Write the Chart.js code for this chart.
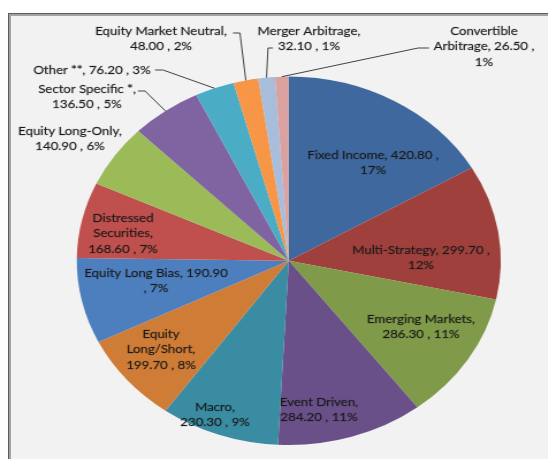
<!DOCTYPE html>
<html>
<head>
  <meta charset="UTF-8">
  <title>Hedge Fund Strategies</title>
  <script src="https://cdn.jsdelivr.net/npm/chart.js"></script>
  <style>
    body { margin: 0; background: #fff; width: 548px; height: 459px; overflow: hidden; position: relative; }
    .frame { position: absolute; left: 8px; top: 13px; width: 560px; height: 470px; background: #f2f2f2;
             border-left: 1px solid #5c5c5c; border-top: 1px solid #5c5c5c; box-shadow: inset 2px 2px 0 #a3a3a3; }
    .stretch { position: absolute; left: 0; top: 0; transform-origin: 0 0; }
  </style>
</head>
<body>
  <div class="frame"></div>
  <div class="stretch" id="wrap"><canvas id="pieChart" width="476" height="459"></canvas></div>

  <script>
    const categories = ['Fixed Income', 'Multi-Strategy', 'Emerging Markets', 'Event Driven', 'Macro',
      'Equity Long/Short', 'Equity Long Bias', 'Distressed Securities', 'Equity Long-Only',
      'Sector Specific *', 'Other **', 'Equity Market Neutral', 'Merger Arbitrage', 'Convertible Arbitrage'];
    const values = [420.8, 299.7, 286.3, 284.2, 230.3, 199.7, 190.9, 168.6, 140.9, 136.5, 76.2, 48.0, 32.1, 26.5];
    const shares = [17, 12, 11, 11, 9, 8, 7, 7, 6, 5, 3, 2, 1, 1];
    const colors = ['#3F689E', '#A0403D', '#7F9A48', '#6A5089', '#3A8CA3', '#CF7C37', '#4D7FBF',
      '#C0504D', '#9BBB59', '#8064A2', '#4BACC6', '#F79646', '#A8BCDB', '#D9A2A1'];

    // the reference pie is an ellipse, so the whole chart is drawn round and stretched sideways
    const SX = 1.151;
    document.getElementById('wrap').style.transform = 'scaleX(' + SX + ')';

    // label placement in page pixels: centre x, first line y, words per line, leader elbow
    const labelLayout = [
      { x: 373, y: 155, wrap: [4, 1] },
      { x: 421, y: 250, wrap: [3, 1] },
      { x: 421, y: 319, wrap: [2, 3] },
      { x: 319, y: 402, wrap: [2, 3] },
      { x: 215, y: 407, wrap: [1, 3] },
      { x: 161, y: 334, wrap: [1, 1, 3] },
      { x: 156, y: 273, wrap: [4, 2] },
      { x: 123, y: 218, wrap: [1, 1, 3] },
      { x: 70, y: 131, wrap: [2, 3] },
      { x: 87, y: 89, wrap: [3, 3], lead: [[138, 91], [145, 91]] },
      { x: 92, y: 70, wrap: [5], lead: [[155, 70], [163, 70]] },
      { x: 161, y: 31, wrap: [3, 3], lead: [[233, 33], [240, 33]] },
      { x: 309, y: 31, wrap: [2, 3], lead: [[273, 48], [268, 48]] },
      { x: 484, y: 31, wrap: [1, 3, 1], lead: [[429, 48], [418, 48]] }
    ];

    const sliceLabels = {
      id: 'sliceLabels',
      afterDatasetsDraw(chart) {
        const ctx = chart.ctx;
        const arcs = chart.getDatasetMeta(0).data;
        ctx.save();
        ctx.font = '11.5px Lato';
        ctx.textAlign = 'center';
        ctx.textBaseline = 'middle';
        labelLayout.forEach((pos, i) => {
          const a = arcs[i].getProps(['x', 'y', 'startAngle', 'endAngle', 'outerRadius'], true);
          if (pos.lead) {
            const mid = (a.startAngle + a.endAngle) / 2;
            ctx.strokeStyle = '#404040';
            ctx.lineWidth = 1;
            ctx.beginPath();
            ctx.moveTo(pos.lead[0][0] / SX, pos.lead[0][1]);
            ctx.lineTo(pos.lead[1][0] / SX, pos.lead[1][1]);
            ctx.lineTo(a.x + Math.cos(mid) * a.outerRadius, a.y + Math.sin(mid) * a.outerRadius);
            ctx.stroke();
          }
          const words = (categories[i] + ', ' + values[i].toFixed(2) + ' , ' + shares[i] + '%').split(' ');
          let k = 0;
          ctx.fillStyle = '#1a1a1a';
          ctx.strokeStyle = 'rgba(26,26,26,0.45)';
          ctx.lineWidth = 0.4;
          pos.wrap.forEach((n, j) => {
            const line = words.slice(k, k + n).join(' ');
            k += n;
            ctx.fillText(line, pos.x / SX, pos.y + j * 15.5);
            ctx.strokeText(line, pos.x / SX, pos.y + j * 15.5);
          });
        });
        ctx.restore();
      }
    };

    new Chart(document.getElementById('pieChart'), {
      type: 'pie',
      data: {
        labels: categories,
        datasets: [{ data: values, backgroundColor: colors, borderWidth: 0 }]
      },
      options: {
        responsive: false,
        animation: false,
        events: [],
        layout: { padding: { left: 66.7, top: 76.6, right: 40.9, bottom: 14 } },
        plugins: { legend: { display: false }, tooltip: { enabled: false } }
      },
      plugins: [sliceLabels]
    });
  </script>
</body>
</html>
